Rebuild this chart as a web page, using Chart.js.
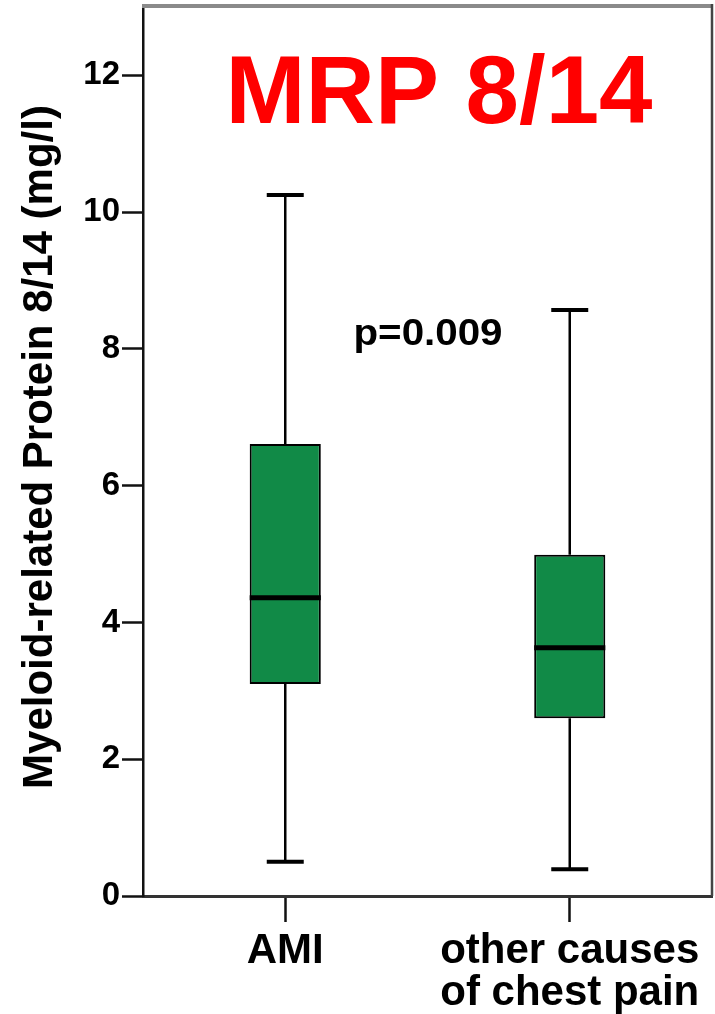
<!DOCTYPE html>
<html>
<head>
<meta charset="utf-8">
<script src="https://cdn.jsdelivr.net/npm/chart.js@4.4.0/dist/chart.umd.min.js"></script>
<style>
  body { margin: 0; background: #fff; }
  #wrap { width: 715px; height: 1014px; position: relative; }
</style>
</head>
<body>
<div id="wrap"><canvas id="grafico"></canvas></div>
<script>
// dados do boxplot
const categorias = ["AMI", ["other causes", "of chest pain"]];
const minimos = [0.50, 0.39];
const quartil1 = [3.10, 2.60];
const medianas = [4.36, 3.63];
const quartil3 = [6.61, 4.99];
const maximos = [10.25, 8.57];
const yTicks = [0, 2, 4, 6, 8, 10, 12];
const yMax = 13;

const titulo = "MRP 8/14";
const textoP = "p=0.009";
const tituloY = "Myeloid-related Protein 8/14 (mg/l)";

const fonte = "'Liberation Sans', Arial, Helvetica, sans-serif";
const verde = "#118a47";

// whiskers, medianas, moldura e textos
const boxExtras = {
  id: "boxExtras",
  afterDatasetsDraw(chart) {
    const ctx = chart.ctx;
    const y = chart.scales.y;
    const meta = chart.getDatasetMeta(0);
    ctx.save();
    ctx.strokeStyle = "#000";
    meta.data.forEach((bar, i) => {
      const cx = bar.x;
      const half = bar.width / 2;
      const cap = half * 0.52;

      ctx.lineWidth = 2.5;
      ctx.beginPath();
      ctx.moveTo(cx, y.getPixelForValue(quartil3[i]));
      ctx.lineTo(cx, y.getPixelForValue(maximos[i]));
      ctx.moveTo(cx, y.getPixelForValue(quartil1[i]));
      ctx.lineTo(cx, y.getPixelForValue(minimos[i]));
      ctx.stroke();

      ctx.lineWidth = 4;
      ctx.beginPath();
      ctx.moveTo(cx - cap, y.getPixelForValue(maximos[i]));
      ctx.lineTo(cx + cap, y.getPixelForValue(maximos[i]));
      ctx.moveTo(cx - cap, y.getPixelForValue(minimos[i]));
      ctx.lineTo(cx + cap, y.getPixelForValue(minimos[i]));
      ctx.stroke();

      ctx.lineWidth = 5;
      ctx.beginPath();
      ctx.moveTo(cx - half, y.getPixelForValue(medianas[i]));
      ctx.lineTo(cx + half, y.getPixelForValue(medianas[i]));
      ctx.stroke();
    });
    ctx.restore();
  },
  afterDraw(chart) {
    const ctx = chart.ctx;
    const area = chart.chartArea;
    ctx.save();

    // moldura de cima e da direita
    ctx.strokeStyle = "#8a8a8a";
    ctx.lineWidth = 4;
    ctx.beginPath();
    ctx.moveTo(area.left - 1, area.top - 1);
    ctx.lineTo(area.right, area.top - 1);
    ctx.stroke();
    ctx.strokeStyle = "#444";
    ctx.lineWidth = 2.5;
    ctx.beginPath();
    ctx.moveTo(area.right, area.top - 3);
    ctx.lineTo(area.right, area.bottom);
    ctx.stroke();

    // titulo vermelho
    ctx.fillStyle = "#ff0000";
    ctx.font = "bold 96px " + fonte;
    ctx.textAlign = "center";
    ctx.textBaseline = "alphabetic";
    ctx.fillText(titulo, 439, 123);

    // valor p
    ctx.fillStyle = "#000";
    ctx.save();
    ctx.translate(428, 345);
    ctx.scale(1.12, 1);
    ctx.font = "bold 36px " + fonte;
    ctx.fillText(textoP, 0, 0);
    ctx.restore();

    // titulo do eixo y
    ctx.translate(52, 447);
    ctx.rotate(-Math.PI / 2);
    ctx.font = "bold 42px " + fonte;
    ctx.fillText(tituloY, 0, 0);
    ctx.restore();
  }
};

const ctx = document.getElementById("grafico").getContext("2d");
new Chart(ctx, {
  type: "bar",
  data: {
    labels: categorias,
    datasets: [{
      data: quartil1.map((q, i) => [q, quartil3[i]]),
      backgroundColor: verde,
      borderColor: "#000",
      borderWidth: 2,
      borderSkipped: false,
      barPercentage: 0.25,
      categoryPercentage: 1
    }]
  },
  options: {
    responsive: true,
    maintainAspectRatio: false,
    animation: false,
    layout: { padding: { top: 7, right: 3, left: 0, bottom: 0 } },
    plugins: {
      legend: { display: false },
      tooltip: { enabled: false },
      title: { display: false }
    },
    scales: {
      x: {
        grid: {
          offset: false,
          drawOnChartArea: false,
          drawTicks: true,
          tickLength: 26,
          tickWidth: 2.5,
          tickColor: "#111"
        },
        border: { display: true, color: "#333", width: 3 },
        ticks: {
          color: "#000",
          padding: 8,
          maxRotation: 0,
          autoSkip: false,
          font: { family: fonte, size: 42, weight: "bold", lineHeight: 1.0 }
        },
        afterFit(scale) {
          scale.height = 118;
          scale.paddingLeft = 0;
          scale.paddingRight = 0;
        }
      },
      y: {
        min: 0,
        max: yMax,
        afterBuildTicks(scale) {
          scale.ticks = yTicks.map(v => ({ value: v }));
        },
        grid: {
          drawOnChartArea: false,
          drawTicks: true,
          tickLength: 21,
          tickWidth: 2.5,
          tickColor: "#111"
        },
        border: { display: true, color: "#111", width: 2.5 },
        ticks: {
          color: "#000",
          padding: 2,
          font: { family: fonte, size: 33, weight: "bold" }
        },
        afterFit(scale) {
          scale.width = 143;
          scale.paddingTop = 0;
          scale.paddingBottom = 0;
        }
      }
    }
  },
  plugins: [boxExtras]
});
</script>
</body>
</html>
